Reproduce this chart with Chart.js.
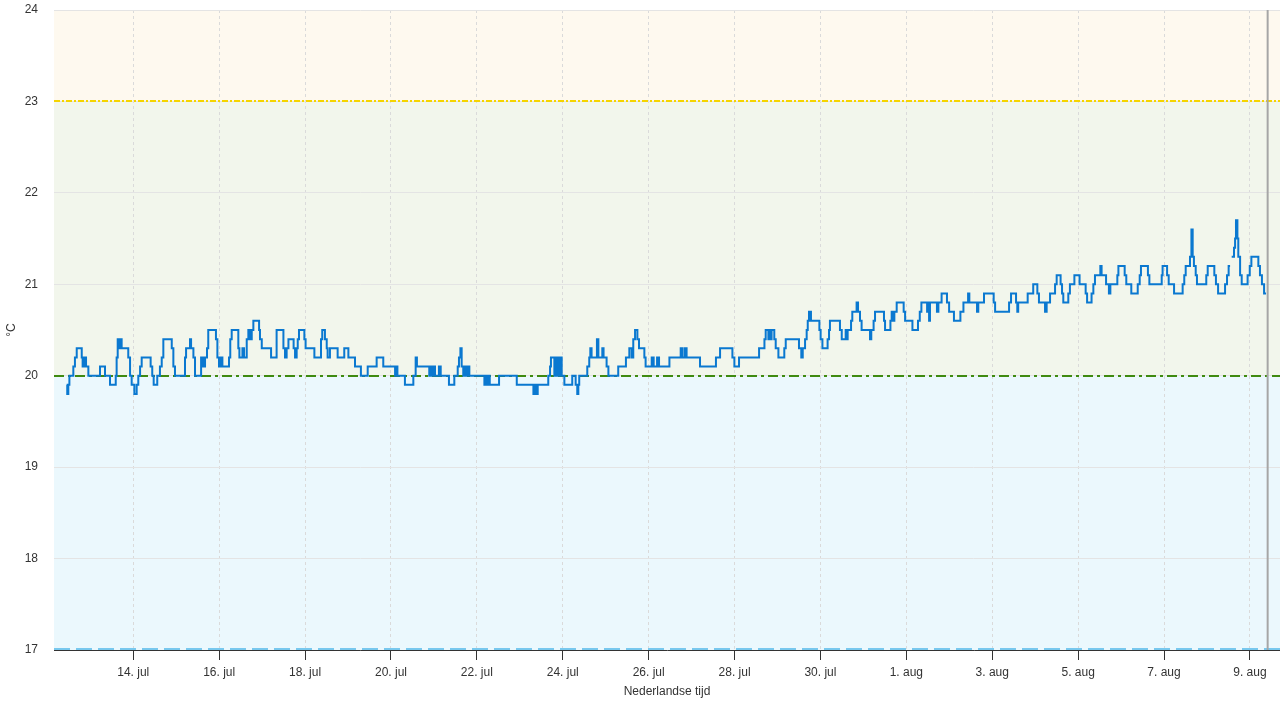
<!DOCTYPE html>
<html>
<head>
<meta charset="utf-8">
<script src="https://cdn.jsdelivr.net/npm/chart.js@4/dist/chart.umd.min.js"></script>
<style>
html,body{margin:0;padding:0;background:#ffffff;}
#wrap{width:1280px;height:720px;position:relative;}
</style>
</head>
<body>
<div id="wrap"><canvas id="c"></canvas></div>
<script>
// Hours since 12 jul 00:00
const tickHours = [48,96,144,192,240,288,336,384,432,480,528,576,624,672];
const tickLabels = ['14. jul','16. jul','18. jul','20. jul','22. jul','24. jul','26. jul','28. jul','30. jul','1. aug','3. aug','5. aug','7. aug','9. aug'];

// change points: time (hours since 12 jul 00:00) and temperature (°C)
const times = [
10.8,11.1,11.7,12.3,14.5,15.4,16.4,19.2,19.7,20.6,21.6,22.9,29.4,32.2,35.0,38.2,38.7,39.3,40.2,40.8,41.5,45.2,46.2,47.1,48.6,49.9,50.8,51.8,52.7,57.7,58.6,59.4,61.4,62.9,63.9,64.8,69.5,70.4,71.3,76.9,77.5,79.7,80.3,81.6,82.5,85.9,87.0,88.1,89.2,89.9,94.2,95.0,95.9,96.8,97.8,101.5,102.2,103.0,106.7,107.3,109.0,109.9,111.4,112.3,113.2,114.2,115.1,118.3,118.8,119.8,125.0,128.1,131.9,132.8,133.7,134.7,137.6,138.4,139.3,139.9,140.6,
143.6,144.3,149.2,152.9,153.6,155.1,156.1,156.6,157.9,162.2,165.9,168.2,171.9,175.2,179.0,184.0,187.7,194.3,194.8,195.6,199.8,204.5,205.8,206.5,213.4,214.4,215.1,215.9,216.6,218.8,219.8,224.4,227.4,229.3,230.0,230.8,231.5,232.4,233.4,234.1,235.0,235.8,244.2,245.1,245.7,246.4,247.2,252.4,262.3,271.6,272.3,272.9,274.0,
279.9,280.9,281.4,283.3,284.0,284.8,285.5,286.1,286.6,287.4,288.9,293.3,295.2,296.1,296.7,297.2,301.7,302.8,303.4,304.1,307.1,307.9,310.1,310.8,312.5,313.5,319.0,323.3,325.2,326.5,327.4,328.4,329.7,330.6,333.6,334.3,337.7,338.8,340.7,341.8,347.6,353.9,355.0,356.3,357.2,364.7,373.6,375.9,382.8,383.9,386.5,397.7,400.7,401.4,402.9,403.4,404.2,404.7,406.2,407.0,
408.5,411.8,412.6,420.0,421.3,422.1,423.4,424.3,424.9,425.6,426.7,431.4,432.1,433.1,436.0,436.8,437.3,442.9,443.9,446.1,446.7,447.2,449.1,449.8,452.2,453.0,454.1,455.0,459.7,460.4,461.7,462.5,467.5,468.1,471.1,471.8,472.5,473.3,474.6,478.5,479.3,483.4,486.5,487.5,488.4,491.6,492.1,492.7,493.2,497.1,497.9,499.7,502.7,503.9,506.6,510.2,511.9,514.5,515.2,519.5,520.2,523.4,528.8,529.6,537.4,538.5,541.3,542.0,542.5,
547.8,550.9,553.2,554.1,557.5,558.4,560.3,563.1,564.0,566.2,567.0,567.7,570.5,571.4,573.9,576.8,580.2,581.0,583.5,584.5,585.4,588.4,589.1,591.6,593.2,594.0,597.9,598.5,602.0,602.9,605.7,609.3,610.4,611.1,615.0,615.8,622.7,623.2,625.7,626.6,629.6,634.4,635.3,636.1,638.5,639.3,640.0,640.7,641.7,642.4,647.6,648.4,652.1,653.0,654.2,658.1,659.2,660.1,660.9,661.3,661.8,663.1,663.7,664.2,665.0,665.5,666.5,667.4,670.7,671.9,672.8,676.7,677.6,678.7,679.9,681.0
];
const temps = [
19.9,19.8,19.9,20.0,20.1,20.2,20.3,20.2,20.1,20.2,20.1,20.0,20.1,20.0,19.9,20.0,20.2,20.4,20.3,20.4,20.3,20.2,20.0,19.9,19.8,19.9,20.0,20.1,20.2,20.1,20.0,19.9,20.0,20.1,20.2,20.4,20.3,20.1,20.0,20.2,20.3,20.4,20.3,20.2,20.0,20.2,20.1,20.2,20.3,20.5,20.4,20.2,20.1,20.2,20.1,20.2,20.4,20.5,20.3,20.2,20.3,20.2,20.4,20.5,20.4,20.5,20.6,20.5,20.4,20.3,20.2,20.5,20.3,20.2,20.3,20.4,20.3,20.2,20.3,20.4,20.5,
20.4,20.3,20.2,20.4,20.5,20.4,20.3,20.2,20.3,20.2,20.3,20.2,20.1,20.0,20.1,20.2,20.1,20.0,20.1,20.0,19.9,20.0,20.2,20.1,20.0,20.1,20.0,20.1,20.0,20.1,20.0,19.9,20.0,20.1,20.2,20.3,20.1,20.0,20.1,20.0,20.1,20.0,19.9,20.0,19.9,20.0,19.9,20.0,19.9,19.8,19.9,19.8,19.9,
20.0,20.1,20.2,20.0,20.2,20.0,20.2,20.0,20.2,20.0,19.9,20.0,19.9,19.8,19.9,20.0,20.1,20.2,20.3,20.2,20.4,20.2,20.3,20.2,20.1,20.0,20.1,20.2,20.3,20.2,20.4,20.5,20.4,20.3,20.2,20.1,20.2,20.1,20.2,20.1,20.2,20.3,20.2,20.3,20.2,20.1,20.2,20.3,20.2,20.1,20.2,20.3,20.4,20.5,20.4,20.5,20.4,20.5,20.4,20.3,
20.2,20.3,20.4,20.3,20.2,20.3,20.4,20.5,20.6,20.7,20.6,20.5,20.4,20.3,20.4,20.5,20.6,20.5,20.4,20.5,20.4,20.5,20.6,20.7,20.8,20.7,20.6,20.5,20.4,20.5,20.6,20.7,20.6,20.5,20.6,20.7,20.6,20.7,20.8,20.7,20.6,20.5,20.6,20.7,20.8,20.7,20.8,20.6,20.8,20.7,20.8,20.9,20.8,20.7,20.6,20.7,20.8,20.9,20.8,20.7,20.8,20.9,20.8,20.7,20.8,20.9,20.8,20.7,20.8,
20.9,21.0,20.9,20.8,20.7,20.8,20.9,21.0,21.1,21.0,20.9,20.8,20.9,21.0,21.1,21.0,20.9,20.8,20.9,21.0,21.1,21.2,21.1,21.0,20.9,21.0,21.1,21.2,21.1,21.0,20.9,21.0,21.1,21.2,21.1,21.0,21.1,21.2,21.1,21.0,20.9,21.0,21.1,21.2,21.3,21.6,21.3,21.2,21.1,21.0,21.1,21.2,21.1,21.0,20.9,21.0,21.1,21.2,21.2,null,21.3,21.4,21.5,21.7,21.5,21.3,21.1,21.0,21.1,21.2,21.3,21.2,21.1,21.0,20.9,20.9
];

const bandRanges = [[17,20],[20,23],[23,24]];
const bandColors = ['#ebf8fd','#f2f6ec','#fef9ef'];
const plotLineValues = [23,20,17];
const plotLineColors = ['#f5d400','#3f8a10','#78c8ee'];
const plotLineDashes = [[6,2,2,2],[10,4,3,4],[16,6]];
const nowHour = 681.9;

const FONT = "'Liberation Sans', Arial, sans-serif";

const points = times.map((t,i)=>({x:t, y:temps[i]}));

const bgPlugin = {
  id:'bgPlugin',
  beforeDraw(chart){
    const {ctx, chartArea:a, scales:{y}} = chart;
    ctx.save();
    bandRanges.forEach((r,i)=>{
      const top = y.getPixelForValue(r[1]);
      const bot = y.getPixelForValue(r[0]);
      ctx.fillStyle = bandColors[i];
      ctx.fillRect(a.left, top, a.right-a.left, bot-top);
    });
    ctx.restore();
  },
  beforeDatasetsDraw(chart){
    const {ctx, chartArea:a, scales:{x,y}} = chart;
    ctx.save();
    plotLineValues.forEach((v,i)=>{
      const py = Math.round(y.getPixelForValue(v)) + (i===2 ? -1 : 0);
      ctx.beginPath();
      ctx.setLineDash(plotLineDashes[i]);
      ctx.strokeStyle = plotLineColors[i];
      ctx.lineWidth = 2;
      ctx.moveTo(a.left, py);
      ctx.lineTo(a.right, py);
      ctx.stroke();
    });
    ctx.setLineDash([]);
    const px = x.getPixelForValue(nowHour);
    ctx.beginPath();
    ctx.strokeStyle = '#a6a6a6';
    ctx.lineWidth = 2;
    ctx.moveTo(px, a.top);
    ctx.lineTo(px, a.bottom);
    ctx.stroke();
    ctx.restore();
  }
};

new Chart(document.getElementById('c'), {
  type:'line',
  data:{ datasets:[{
    data: points,
    stepped: true,
    borderColor:'#0a78d0',
    borderWidth:2,
    pointRadius:0,
    pointHoverRadius:0,
    fill:false,
    spanGaps:false,
    tension:0
  }]},
  options:{
    responsive:true,
    maintainAspectRatio:false,
    animation:false,
    events:[],
    layout:{ padding:{ top:10, right:0, bottom:0, left:0 } },
    plugins:{ legend:{display:false}, tooltip:{enabled:false} },
    scales:{
      x:{
        type:'linear',
        min:3.7,
        max:688.8,
        afterFit(s){ s.height = 70; },
        afterBuildTicks(s){ s.ticks = tickHours.map(v=>({value:v})); },
        ticks:{
          color:'#333333',
          font:{size:12, family:FONT},
          padding:5,
          maxRotation:0,
          autoSkip:false,
          callback:(v)=> tickLabels[tickHours.indexOf(v)]
        },
        grid:{ color:'#dadada', tickColor:'#333333', tickLength:10, drawTicks:true, lineWidth:1 },
        border:{ display:true, color:'#333333', width:1, dash:[3,3] },
        title:{ display:true, text:'Nederlandse tijd', color:'#333333', font:{size:12, family:FONT}, padding:{top:0, bottom:21} }
      },
      y:{
        type:'linear',
        min:17,
        max:24,
        afterFit(s){ s.width = 54; },
        ticks:{ stepSize:1, padding:0, color:'#333333', font:{size:12, family:FONT} },
        grid:{ color:'#e4e4e4', drawTicks:true, tickLength:16, tickColor:'rgba(0,0,0,0)', lineWidth:1 },
        border:{ display:false },
        title:{ display:true, text:'°C', color:'#333333', font:{size:12, family:FONT}, padding:{top:4, bottom:0} }
      }
    }
  },
  plugins:[bgPlugin]
});
</script>
</body>
</html>
